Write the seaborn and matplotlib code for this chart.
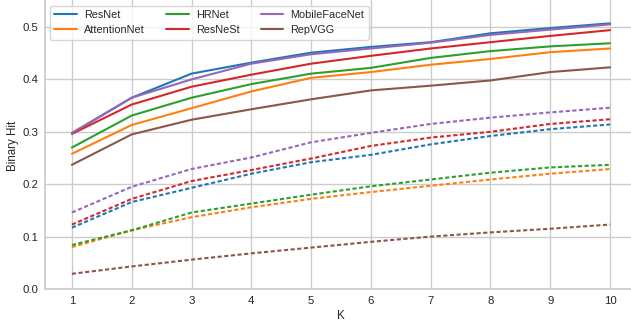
import matplotlib
matplotlib.use("Agg")
import matplotlib.pyplot as plt
import numpy as np
import pandas as pd
import seaborn as sns

# values
k_values = [1, 2, 3, 4, 5, 6, 7, 8, 9, 10]
models = ["ResNet", "AttentionNet", "HRNet", "ResNeSt", "MobileFaceNet", "RepVGG"]

# solid lines
solid_resnet = [0.297, 0.365, 0.411, 0.432, 0.451, 0.462, 0.471, 0.488, 0.498, 0.507]
solid_attention = [0.258, 0.313, 0.345, 0.377, 0.403, 0.414, 0.428, 0.439, 0.452, 0.459]
solid_hrnet = [0.270, 0.331, 0.365, 0.391, 0.411, 0.422, 0.441, 0.454, 0.463, 0.469]
solid_resnest = [0.296, 0.352, 0.386, 0.409, 0.430, 0.445, 0.459, 0.471, 0.483, 0.494]
solid_mobile = [0.298, 0.365, 0.400, 0.430, 0.448, 0.459, 0.470, 0.485, 0.495, 0.505]
solid_repvgg = [0.237, 0.295, 0.323, 0.343, 0.362, 0.379, 0.388, 0.398, 0.414, 0.423]

# dashed lines
dashed_resnet = [0.117, 0.166, 0.193, 0.220, 0.242, 0.256, 0.276, 0.292, 0.305, 0.314]
dashed_attention = [0.080, 0.112, 0.137, 0.156, 0.172, 0.185, 0.197, 0.209, 0.220, 0.229]
dashed_hrnet = [0.084, 0.112, 0.146, 0.163, 0.180, 0.196, 0.209, 0.222, 0.232, 0.237]
dashed_resnest = [0.123, 0.172, 0.206, 0.227, 0.249, 0.273, 0.289, 0.300, 0.315, 0.324]
dashed_mobile = [0.146, 0.195, 0.229, 0.251, 0.280, 0.298, 0.315, 0.327, 0.337, 0.346]
dashed_repvgg = [0.029, 0.043, 0.056, 0.068, 0.079, 0.090, 0.100, 0.108, 0.115, 0.123]

solid = [solid_resnet, solid_attention, solid_hrnet, solid_resnest, solid_mobile, solid_repvgg]
dashed = [dashed_resnet, dashed_attention, dashed_hrnet, dashed_resnest, dashed_mobile, dashed_repvgg]


def to_long(series_list):
    rows = []
    for name, vals in zip(models, series_list):
        for k, v in zip(k_values, vals):
            rows.append({"K": k, "Model": name, "Binary Hit": v})
    return pd.DataFrame(rows)


df_solid = to_long(solid)
df_dashed = to_long(dashed)

sns.set_theme(style="whitegrid")
plt.rcParams["font.family"] = ["Liberation Sans", "DejaVu Sans"]
palette = sns.color_palette("tab10", len(models))

W, H = 631, 323
fig = plt.figure(figsize=(W / 100, H / 100), dpi=100)
# axes spill slightly past the right and top edges, like the reference
ax = fig.add_axes([45 / W, (H - 289) / H, (637 - 45) / W, (289 + 5) / H])

sns.lineplot(data=df_solid, x="K", y="Binary Hit", hue="Model", hue_order=models,
             palette=palette, linewidth=1.5, ax=ax, legend=False)
n_solid = len(ax.lines)
sns.lineplot(data=df_dashed, x="K", y="Binary Hit", hue="Model", hue_order=models,
             palette=palette, linewidth=1.5, ax=ax, legend=False)
for line in ax.lines[n_solid:]:
    line.set_dashes((2, 1.2))

ax.set_xlim(0.55, 10.45)
ax.set_ylim(0, 0.5 + 5 / 52.4 * 0.1 + 27 / 52.4 * 0.1)
ax.set_xticks(k_values)
ax.set_yticks([0.0, 0.1, 0.2, 0.3, 0.4, 0.5])
ax.tick_params(labelsize=8.2, pad=4.8, length=0)
ax.set_xlabel("K", fontsize=8.3)
ax.set_ylabel("Binary Hit", fontsize=8.3)
ax.xaxis.set_label_coords(0.5, (289 - 310) / 294)
ax.yaxis.set_label_coords((19 - 45) / 592, (289 - 146) / 294)
for s in ["top", "right"]:
    ax.spines[s].set_visible(False)

handles = ax.lines[:n_solid]
ax.legend(handles, models, ncol=3, fontsize=7.8, loc="upper left",
          bbox_to_anchor=(50 / W, 1 - 5.5 / H), bbox_transform=fig.transFigure,
          borderaxespad=0, columnspacing=1.95, handlelength=2.1, handletextpad=0.65)

fig.savefig("out.png", dpi=100)
